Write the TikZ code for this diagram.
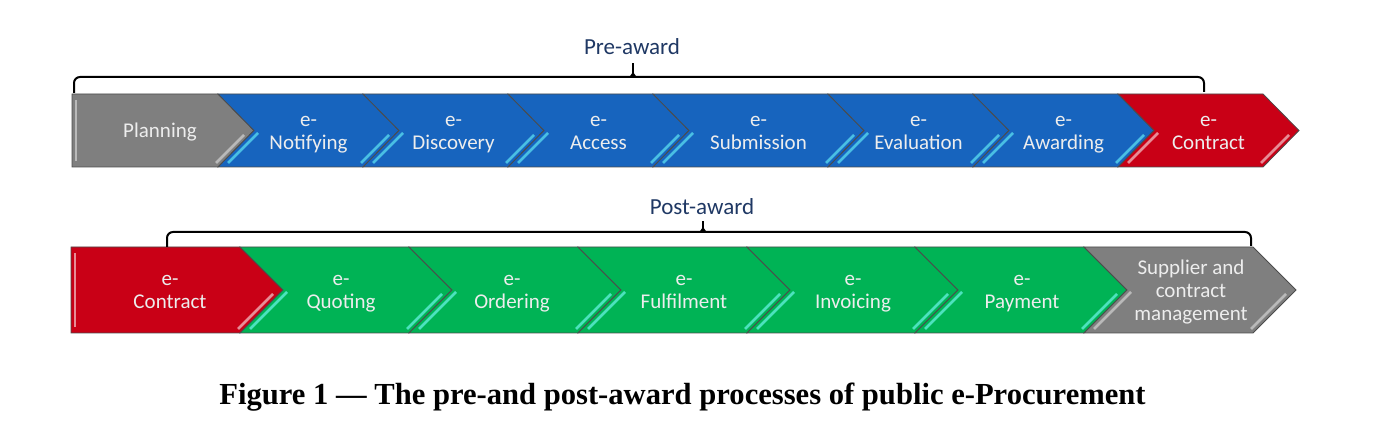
\documentclass[tikz,border=0pt]{standalone}
\usepackage{fontspec}
\setmainfont{Carlito}
\newfontfamily\captionserif{Liberation Serif}
\usepackage{tikz}
\usetikzlibrary{calc,positioning}
\definecolor{plangray}{HTML}{7F7F7F}
\definecolor{stepblue}{HTML}{1764BE}
\definecolor{contractred}{HTML}{C90016}
\definecolor{stepgreen}{HTML}{00B355}
\definecolor{phaseblue}{HTML}{1F3864}
\tikzset{
  chev/.style={draw=black!70,line width=.4pt},
  bevel/.style 2 args={path picture={
      \draw[#1,line width=1.4pt] ($(path picture bounding box.south east)+(-#2-2,-4)$) -- ++(#2-8,-#2+8);
      \draw[#1,line width=1.4pt] ($(path picture bounding box.south west)+(10,-4)$) -- ++(#2-6,-#2+6);}},
  firstbevel/.style 2 args={path picture={
      \draw[#1,line width=1.4pt] ($(path picture bounding box.south east)+(-#2-2,-4)$) -- ++(#2-8,-#2+8);
      \draw[#1,line width=1.2pt] ($(path picture bounding box.south west)+(4,-6)$) -- ($(path picture bounding box.north west)+(4,6)$);}},
  grayfill/.style={chev,fill=plangray,#1},
  bluefill/.style={chev,fill=stepblue,bevel={stepblue!55!cyan!75!white}{#1}},
  greenfill/.style={chev,fill=stepgreen,bevel={stepgreen!55!cyan!70!white}{#1}},
  steptext/.style={text=white!93!black,align=center,font=\fontsize{10.5}{11.5}\selectfont,
    execute at begin node=\strut,execute at end node=\strut,inner sep=0pt},
  phase/.style={text=phaseblue,font=\fontsize{11.5}{13.8}\selectfont},
  bracket/.style={line width=1pt,rounded corners=3pt},
  figcaption/.style={font=\captionserif\bfseries\fontsize{15.3}{18}\selectfont,anchor=base},
}

\begin{document}
\begin{tikzpicture}[x=0.5pt,y=-0.5pt]
\useasboundingbox (0,0) rectangle (1380,442);
% pre-award chain
\draw[grayfill={firstbevel={plangray!55!white}{36}}] (72,94) -- (218,94) -- (254,130.5) -- (218,167) -- (72,167) -- cycle;
\draw[bluefill=36] (218,94) -- (363,94) -- (399,130.5) -- (363,167) -- (218,167) -- (254,130.5) -- cycle;
\draw[bluefill=36] (363,94) -- (508,94) -- (544,130.5) -- (508,167) -- (363,167) -- (399,130.5) -- cycle;
\draw[bluefill=36] (508,94) -- (653,94) -- (689,130.5) -- (653,167) -- (508,167) -- (544,130.5) -- cycle;
\draw[bluefill=36] (653,94) -- (828,94) -- (864,130.5) -- (828,167) -- (653,167) -- (689,130.5) -- cycle;
\draw[bluefill=36] (828,94) -- (973,94) -- (1009,130.5) -- (973,167) -- (828,167) -- (864,130.5) -- cycle;
\draw[bluefill=36] (973,94) -- (1118,94) -- (1154,130.5) -- (1118,167) -- (973,167) -- (1009,130.5) -- cycle;
\draw[chev,fill=contractred,bevel={contractred!45!white}{36}] (1118,94) -- (1263,94) -- (1299,130.5) -- (1263,167) -- (1118,167) -- (1154,130.5) -- cycle;
\node[steptext] (plan) at (160,132.5) {Planning};
\node[steptext] (notify) at (308.5,136.5) {e-\\Notifying};
\node[steptext] (discover) at (453.5,136.5) {e-\\Discovery};
\node[steptext] (access) at (598.5,136.5) {e-\\Access};
\node[steptext] (submit) at (758.5,136.5) {e-\\Submission};
\node[steptext] (evaluate) at (918.5,136.5) {e-\\Evaluation};
\node[steptext] (award) at (1063.5,136.5) {e-\\Awarding};
\node[steptext] (contractA) at (1208.5,136.5) {e-\\Contract};
% post-award chain
\draw[chev,fill=contractred,firstbevel={contractred!45!white}{43}] (71,247) -- (240,247) -- (283,290) -- (240,333) -- (71,333) -- cycle;
\draw[greenfill=43] (240,247) -- (409,247) -- (452,290) -- (409,333) -- (240,333) -- (283,290) -- cycle;
\draw[greenfill=43] (409,247) -- (578,247) -- (621,290) -- (578,333) -- (409,333) -- (452,290) -- cycle;
\draw[greenfill=43] (578,247) -- (747,247) -- (790,290) -- (747,333) -- (578,333) -- (621,290) -- cycle;
\draw[greenfill=43] (747,247) -- (915,247) -- (958,290) -- (915,333) -- (747,333) -- (790,290) -- cycle;
\draw[greenfill=43] (915,247) -- (1084,247) -- (1127,290) -- (1084,333) -- (915,333) -- (958,290) -- cycle;
\draw[grayfill={bevel={plangray!55!white}{43}}] (1084,247) -- (1253,247) -- (1296,290) -- (1253,333) -- (1084,333) -- (1127,290) -- cycle;
\node[steptext] (contractB) at (170,295) {e-\\Contract};
\node[steptext] (quote) at (341,295) {e-\\Quoting};
\node[steptext] (order) at (512,295) {e-\\Ordering};
\node[steptext] (fulfil) at (684,295) {e-\\Fulfilment};
\node[steptext] (invoice) at (853,295) {e-\\Invoicing};
\node[steptext] (pay) at (1022,295) {e-\\Payment};
\node[steptext] (supply) at (1191,294) {Supplier and\\contract\\management};
% braces
\coordinate (preL) at (74,93);
\coordinate (preR) at (1204,92);
\coordinate (preTip) at (633,77);
\draw[bracket] (preL) |- (preTip) -| (preR);
\draw[line width=1pt] (preTip) -- ++(0,-14);
\fill ($(preTip)+(-4,0.5)$) -- ($(preTip)+(0,-5)$) -- ($(preTip)+(4,0.5)$) -- cycle;
\node[phase] (pre) at (632,47) {Pre-award};
\coordinate (postL) at (167,247);
\coordinate (postR) at (1251,246);
\coordinate (postTip) at (703,232);
\draw[bracket] (postL) |- (postTip) -| (postR);
\draw[line width=1pt] (postTip) -- ++(0,-11);
\fill ($(postTip)+(-4,0.5)$) -- ($(postTip)+(0,-5)$) -- ($(postTip)+(4,0.5)$) -- cycle;
\node[phase] (post) at (702,207) {Post-award};
\node[figcaption] (cap) at (682.5,405) {Figure 1 — The pre-and post-award processes of public e-Procurement};
\end{tikzpicture}
\end{document}
